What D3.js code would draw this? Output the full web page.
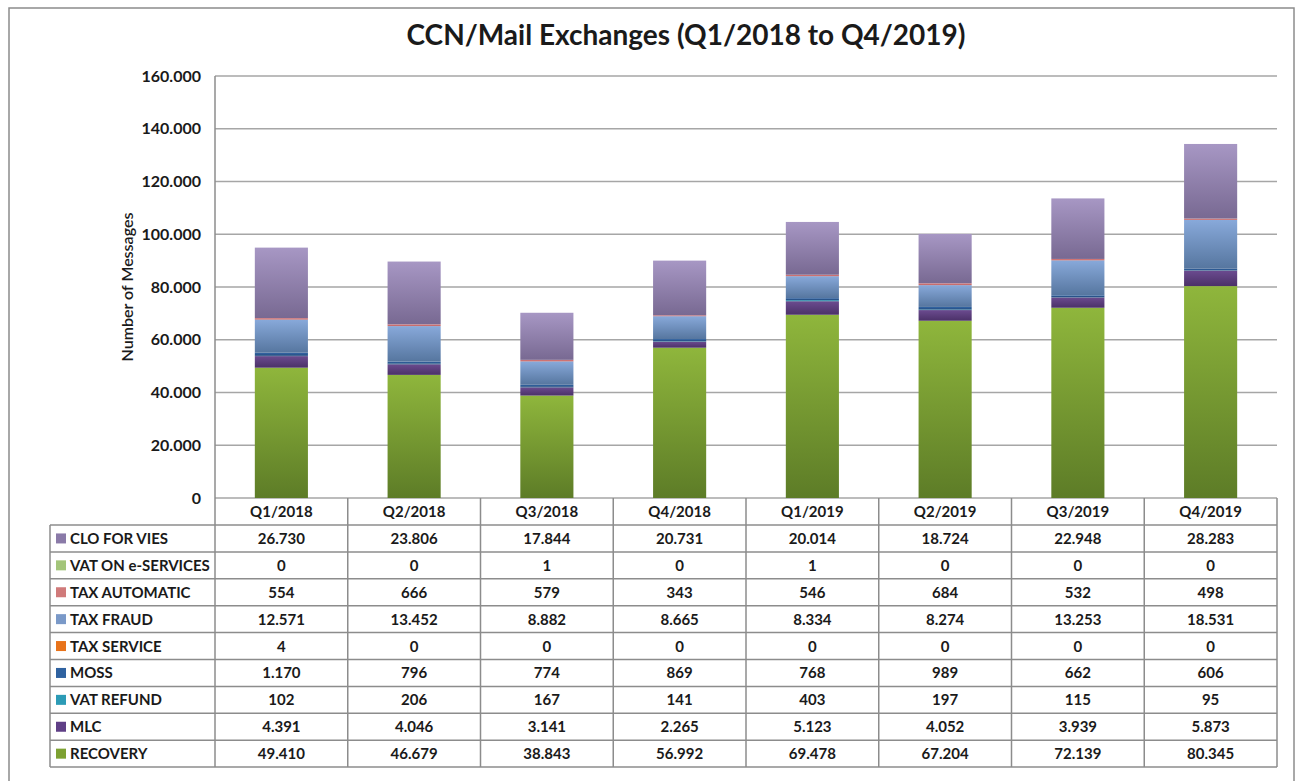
<!DOCTYPE html>
<html lang="en">
<head>
<meta charset="UTF-8">
<title>CCN/Mail Exchanges</title>
<script src="https://d3js.org/d3.v7.min.js"></script>
<style>
  body { margin: 0; background: #fff; }
  text { font-family: Lato, "Open Sans", sans-serif; fill: #1a1a1a; }
</style>
</head>
<body>
<div id="chart"></div>
<script>
    var quarters = ["Q1/2018", "Q2/2018", "Q3/2018", "Q4/2018", "Q1/2019", "Q2/2019", "Q3/2019", "Q4/2019"];
    // stacking order, bottom to top
    var seriesNames = ["RECOVERY", "MLC", "VAT REFUND", "MOSS", "TAX SERVICE", "TAX FRAUD", "TAX AUTOMATIC", "VAT ON e-SERVICES", "CLO FOR VIES"];
    var recovery = [49410, 46679, 38843, 56992, 69478, 67204, 72139, 80345];
    var mlc = [4391, 4046, 3141, 2265, 5123, 4052, 3939, 5873];
    var vatRefund = [102, 206, 167, 141, 403, 197, 115, 95];
    var moss = [1170, 796, 774, 869, 768, 989, 662, 606];
    var taxService = [4, 0, 0, 0, 0, 0, 0, 0];
    var taxFraud = [12571, 13452, 8882, 8665, 8334, 8274, 13253, 18531];
    var taxAutomatic = [554, 666, 579, 343, 546, 684, 532, 498];
    var vatOnEServices = [0, 0, 1, 0, 1, 0, 0, 0];
    var cloForVies = [26730, 23806, 17844, 20731, 20014, 18724, 22948, 28283];
    var yTicks = [0, 20000, 40000, 60000, 80000, 100000, 120000, 140000, 160000];

    var seriesValues = [recovery, mlc, vatRefund, moss, taxService, taxFraud, taxAutomatic, vatOnEServices, cloForVies];
    // [top colour, bottom colour]
    var colors = [
        ["#8fb63c", "#5d7c27"],
        ["#6b4b8f", "#4b3168"],
        ["#33a3bf", "#257d94"],
        ["#3468a8", "#234a7c"],
        ["#f07a1a", "#c85f08"],
        ["#88a9da", "#56769f"],
        ["#db8080", "#c06262"],
        ["#b0cf86", "#95b56a"],
        ["#a797c4", "#786992"]
    ];
    var swatch = ["#8a7aa8", "#a3c57a", "#d07a7a", "#7a99c8", "#e8731a", "#2f62a0", "#2c9bb6", "#5f3f86", "#7da132"];

    var W = 1299, H = 781;
    var plot = { left: 215, right: 1277, top: 76, bottom: 498 };
    var tableLeft = 50, headerH = 27, rowH = 26.9;
    var fs = "15px";

    var svg = d3.select("#chart").append("svg")
        .attr("width", W).attr("height", H);

    // outer frame
    svg.append("rect")
        .attr("x", 9).attr("y", 8).attr("width", 1285).attr("height", 790)
        .attr("fill", "none").attr("stroke", "#8c8c8c").attr("stroke-width", 1.5);

    var rows = quarters.map(function(q, i) {
        var r = { q: q };
        seriesNames.forEach(function(s, j) { r[s] = seriesValues[j][i]; });
        return r;
    });
    var stacked = d3.stack().keys(seriesNames)(rows);

    var x = d3.scaleBand().domain(quarters).range([plot.left, plot.right]).padding(0);
    var y = d3.scaleLinear().domain([0, 160000]).range([plot.bottom, plot.top]);
    var barW = x.bandwidth() * 0.4;

    var defs = svg.append("defs");
    colors.forEach(function(c, i) {
        var g = defs.append("linearGradient").attr("id", "grad" + i)
            .attr("x1", 0).attr("y1", 0).attr("x2", 0).attr("y2", 1);
        g.append("stop").attr("offset", "0%").attr("stop-color", c[0]);
        g.append("stop").attr("offset", "100%").attr("stop-color", c[1]);
    });

    // title
    svg.append("text")
        .attr("x", 686).attr("y", 45)
        .attr("text-anchor", "middle")
        .style("font-size", "28px").style("font-weight", "bold")
        .text("CCN/Mail Exchanges (Q1/2018 to Q4/2019)");

    // gridlines
    svg.append("g").selectAll("line").data(yTicks).enter().append("line")
        .attr("x1", plot.left).attr("x2", plot.right)
        .attr("y1", function(d) { return y(d); }).attr("y2", function(d) { return y(d); })
        .attr("stroke", "#a6a6a6").attr("stroke-width", 1.5);

    // y axis
    var yAxis = svg.append("g")
        .attr("transform", "translate(" + plot.left + ",0)")
        .call(d3.axisLeft(y).tickValues(yTicks).tickSize(0).tickPadding(14)
            .tickFormat(function(d) { return d === 0 ? "0" : d3.format(",")(d).replace(/,/g, "."); }));
    yAxis.select(".domain").remove();
    yAxis.selectAll("text").style("font-size", "16px").style("font-weight", "bold")
        .style("font-family", "Lato, sans-serif").attr("fill", "#1a1a1a");

    svg.append("text")
        .attr("transform", "translate(133," + ((plot.top + plot.bottom) / 2 + 0) + ") rotate(-90)")
        .attr("text-anchor", "middle")
        .style("font-size", "16px").style("font-weight", "600")
        .text("Number of Messages");

    // bars
    svg.append("g").selectAll("g").data(stacked).enter().append("g")
        .attr("fill", function(d, i) { return "url(#grad" + i + ")"; })
        .selectAll("rect").data(function(d) { return d; }).enter().append("rect")
        .attr("x", function(d) { return x(d.data.q) + (x.bandwidth() - barW) / 2; })
        .attr("y", function(d) { return y(d[1]); })
        .attr("width", barW)
        .attr("height", function(d) { return y(d[0]) - y(d[1]); });

    // data table
    var tableTop = plot.bottom;
    var rowsTop = tableTop + headerH;
    var tableBottom = rowsTop + rowH * seriesNames.length;
    var lineColor = "#8c8c8c";
    var t = svg.append("g");

    // header row
    quarters.forEach(function(q) {
        t.append("text")
            .attr("x", x(q) + x.bandwidth() / 2).attr("y", tableTop + headerH / 2 + 5)
            .attr("text-anchor", "middle")
            .style("font-size", fs).style("font-weight", "bold")
            .text(q);
    });

    // horizontal lines
    d3.range(seriesNames.length + 1).forEach(function(i) {
        t.append("line")
            .attr("x1", tableLeft).attr("x2", plot.right)
            .attr("y1", rowsTop + i * rowH).attr("y2", rowsTop + i * rowH)
            .attr("stroke", lineColor).attr("stroke-width", 1.5);
    });
    // vertical lines
    t.append("line").attr("x1", tableLeft).attr("x2", tableLeft)
        .attr("y1", rowsTop).attr("y2", tableBottom)
        .attr("stroke", lineColor).attr("stroke-width", 1.5);
    quarters.forEach(function(q) {
        t.append("line").attr("x1", x(q)).attr("x2", x(q))
            .attr("y1", tableTop).attr("y2", tableBottom)
            .attr("stroke", lineColor).attr("stroke-width", 1.5);
    });
    t.append("line").attr("x1", plot.right).attr("x2", plot.right)
        .attr("y1", tableTop).attr("y2", tableBottom)
        .attr("stroke", lineColor).attr("stroke-width", 1.5);
    // left axis line across plot
    t.append("line").attr("x1", plot.left).attr("x2", plot.left)
        .attr("y1", plot.top).attr("y2", tableTop)
        .attr("stroke", lineColor).attr("stroke-width", 1.5);

    // table rows, top to bottom = reverse stack order
    var fmt = function(v) { return d3.format(",")(v).replace(/,/g, "."); };
    var order = seriesNames.map(function(s, i) { return i; }).reverse();
    order.forEach(function(si, r) {
        var cy = rowsTop + r * rowH + rowH / 2;
        t.append("rect")
            .attr("x", tableLeft + 6).attr("y", cy - 5).attr("width", 10).attr("height", 10)
            .attr("fill", swatch[r]);
        t.append("text")
            .attr("x", tableLeft + 20).attr("y", cy + 5.5)
            .style("font-size", fs).style("font-weight", "bold")
            .text(seriesNames[si]);
        quarters.forEach(function(q, qi) {
            t.append("text")
                .attr("x", x(q) + x.bandwidth() / 2).attr("y", cy + 5.5)
                .attr("text-anchor", "middle")
                .style("font-size", fs).style("font-weight", "bold")
                .text(fmt(seriesValues[si][qi]));
        });
    });
</script>
</body>
</html>
